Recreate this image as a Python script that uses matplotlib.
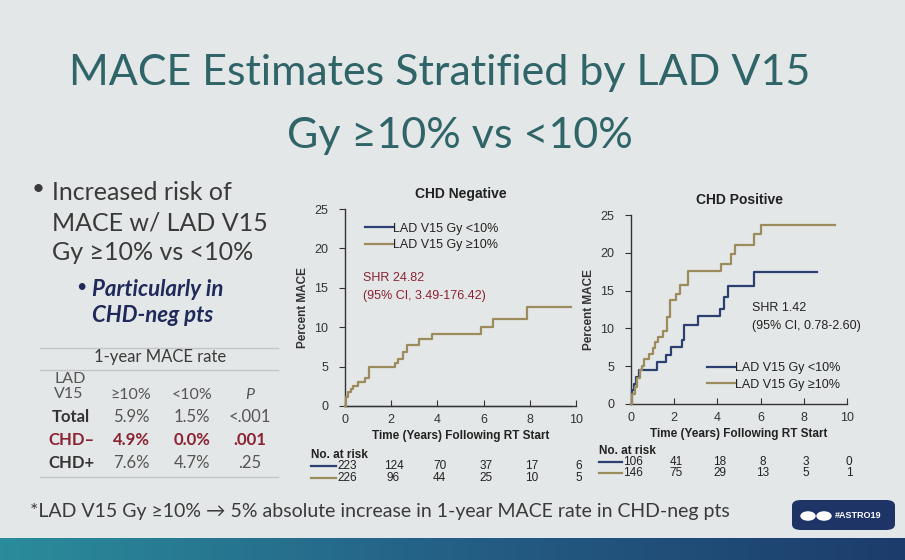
import numpy as np
import matplotlib
matplotlib.use("Agg")
import matplotlib.pyplot as plt
from matplotlib.patches import FancyBboxPatch, Circle
from matplotlib.lines import Line2D
from matplotlib.colors import LinearSegmentedColormap

# ---------------- data ----------------
neg_lo_t = [0, 9.8]
neg_lo_y = [0, 0]
neg_hi_t = [0, 0.05, 0.15, 0.26, 0.33, 0.55, 0.85, 1.05, 2.15, 2.3, 2.5, 2.7, 3.2, 3.75, 5.9, 6.4, 7.9, 9.8]
neg_hi_y = [0, 1.1, 1.8, 2.2, 2.6, 3.1, 3.5, 4.9, 5.4, 6.0, 6.8, 7.8, 8.5, 9.1, 10.0, 11.1, 12.6, 12.6]

pos_lo_t = [0, 0.05, 0.15, 0.25, 0.35, 1.2, 1.6, 1.85, 2.35, 2.45, 3.1, 4.1, 4.3, 4.5, 5.7, 8.6]
pos_lo_y = [0, 1.8, 2.7, 3.6, 4.5, 5.5, 6.5, 7.5, 8.5, 10.5, 11.6, 12.6, 14.2, 15.6, 17.4, 17.4]
pos_hi_t = [0, 0.05, 0.2, 0.3, 0.4, 0.5, 0.6, 0.85, 1.0, 1.1, 1.25, 1.5, 1.65, 1.8, 2.1, 2.25, 2.65, 4.15, 4.65, 4.8, 5.68, 6.0, 9.45]
pos_hi_y = [0, 1.3, 2.2, 3.5, 4.5, 5.0, 6.0, 6.6, 7.4, 8.2, 8.9, 9.6, 11.5, 13.7, 14.5, 15.8, 17.6, 18.5, 19.8, 21.0, 22.5, 23.7, 23.7]

risk_times = [0, 2, 4, 6, 8, 10]
neg_risk_lo = [223, 124, 70, 37, 17, 6]
neg_risk_hi = [226, 96, 44, 25, 10, 5]
pos_risk_lo = [106, 41, 18, 8, 3, 0]
pos_risk_hi = [146, 75, 29, 13, 5, 1]

series_labels = ["LAD V15 Gy <10%", "LAD V15 Gy \u226510%"]
table_cols = ["\u226510%", "<10%", "P"]
table_rows = ["Total", "CHD\u2013", "CHD+"]
table_vals = [["5.9%", "1.5%", "<.001"], ["4.9%", "0.0%", ".001"], ["7.6%", "4.7%", ".25"]]

# ---------------- style ----------------
W, H = 905, 560
BG = "#e4e7e7"
BLUE = "#2b3f72"
TAN = "#9c8b5c"
TEAL = "#2f6468"
RED = "#8a2232"
TXT = "#3a3a3a"
SANS = ["Liberation Sans", "DejaVu Sans"]
SLIDE = ["Lato", "DejaVu Sans"]

fig = plt.figure(figsize=(W / 100, H / 100), dpi=100)
fig.patch.set_facecolor(BG)


def fx(px):
    return px / W


def fy(py):
    return 1 - py / H


# bottom bar gradient
bar = fig.add_axes([0, 0, 1, fy(538)])
grad = np.linspace(0, 1, 256).reshape(1, -1)
cm = LinearSegmentedColormap.from_list("b", ["#2a8c9a", "#245f86", "#1c3c6c"])
bar.imshow(grad, aspect="auto", cmap=cm, extent=[0, 1, 0, 1])
bar.axis("off")

# title
fig.text(fx(440), fy(73), "MACE Estimates Stratified by LAD V15", ha="center", va="center",
         fontsize=31, color=TEAL, family=SLIDE)
fig.text(fx(460), fy(136), "Gy \u226510% vs <10%", ha="center", va="center",
         fontsize=31, color=TEAL, family=SLIDE)

# bullets
for i, line in enumerate(["Increased risk of", "MACE w/ LAD V15", "Gy \u226510% vs <10%"]):
    fig.text(fx(52), fy(193 + 30 * i), line, ha="left", va="center", fontsize=18,
             color=TXT, family=SLIDE)
fig.text(fx(32), fy(189), "\u2022", ha="left", va="center", fontsize=16, color=TXT, family=SLIDE)
fig.text(fx(76), fy(287), "\u2022", ha="left", va="center", fontsize=13, color="#1f2a5a", family=SLIDE)
for i, line in enumerate(["Particularly in", "CHD-neg pts"]):
    fig.text(fx(92), fy(289 + 27 * i), line, ha="left", va="center", fontsize=16,
             color="#1f2a5a", family=SLIDE, fontweight="bold", style="italic")

# table
for yy in (348, 370, 477):
    fig.add_artist(Line2D([fx(40), fx(278)], [fy(yy), fy(yy)], color="#c4c6c6", lw=1.0))
fig.text(fx(160), fy(357), "1-year MACE rate", ha="center", va="center", fontsize=12,
         color=TXT, family=SLIDE)
fig.text(fx(54), fy(379), "LAD", ha="left", va="center", fontsize=11.5, color="#555555", family=SLIDE)
fig.text(fx(54), fy(394), "V15", ha="left", va="center", fontsize=11.5, color="#555555", family=SLIDE)
col_x = [131, 192, 250]
for cx, c in zip(col_x, table_cols):
    fig.text(fx(cx), fy(395), c, ha="center", va="center", fontsize=11.5, color="#555555",
             family=SLIDE, style="italic" if c == "P" else "normal")
row_y = [417, 440, 463]
row_x = [52, 48, 48]
for ry, rxp, rname, vals in zip(row_y, row_x, table_rows, table_vals):
    red = rname.startswith("CHD\u2013")
    fig.text(fx(rxp), fy(ry), rname, ha="left", va="center", fontsize=12,
             color=RED if red else "#333333", family=SLIDE, fontweight="bold")
    for cx, v in zip(col_x, vals):
        fig.text(fx(cx), fy(ry), v, ha="center", va="center", fontsize=12,
                 color=RED if red else "#555555", family=SLIDE,
                 fontweight="bold" if red else "normal")

# footnote
fig.text(fx(30), fy(512), "*LAD V15 Gy \u226510% \u2192 5% absolute increase in 1-year MACE rate in CHD-neg pts",
         ha="left", va="center", fontsize=14, color=TXT, family=SLIDE)

# logo box
logo = FancyBboxPatch((fx(792), fy(530)), fx(103), fy(500) - fy(530),
                      boxstyle="round,pad=0,rounding_size=0.01", transform=fig.transFigure,
                      facecolor="#1e3466", edgecolor="none")
fig.add_artist(logo)
for cxp in (808, 824):
    fig.add_artist(Circle((fx(cxp), fy(516)), 0.0085, transform=fig.transFigure,
                          facecolor="white", edgecolor="none"))
fig.text(fx(835), fy(516), "#ASTRO19", ha="left", va="center", fontsize=6.5, color="white",
         family=SANS, fontweight="bold")


def km_axes(rect, title, t_lo, y_lo, t_hi, y_hi, risk_lo, risk_hi, shr, shr_xy, leg_anchor,
            shr_color, lo_z, lo_lw):
    ax = fig.add_axes(rect)
    ax.set_facecolor("none")
    ax.step(t_lo, y_lo, where="post", color=BLUE, lw=lo_lw, clip_on=False, zorder=lo_z)
    ax.step(t_hi, y_hi, where="post", color=TAN, lw=1.6, clip_on=False, zorder=3)
    ax.set_xlim(0, 10)
    ax.set_ylim(0, 25)
    ax.set_xticks([0, 2, 4, 6, 8, 10])
    ax.set_yticks([0, 5, 10, 15, 20, 25])
    for s in ("top", "right"):
        ax.spines[s].set_visible(False)
    for s in ("left", "bottom"):
        ax.spines[s].set_color("#333333")
        ax.spines[s].set_linewidth(1.0)
        ax.spines[s].set_zorder(2.5)
    ax.tick_params(axis="y", direction="out", length=4, labelsize=9, colors="#333333", pad=8)
    ax.tick_params(axis="x", direction="in", length=4, labelsize=9, colors="#333333", pad=6)
    for lab in ax.get_xticklabels() + ax.get_yticklabels():
        lab.set_family(SANS)
    ax.set_title(title, fontsize=10, fontweight="bold", family=SANS, color="#222222", pad=8)
    ax.set_ylabel("Percent MACE", fontsize=8.5, fontweight="bold", family=SANS, color="#333333",
                  labelpad=4)
    ax.set_xlabel("Time (Years) Following RT Start", fontsize=8.5, fontweight="bold",
                  family=SANS, color="#222222", labelpad=3)
    handles = [Line2D([], [], color=BLUE, lw=1.6), Line2D([], [], color=TAN, lw=1.6)]
    leg = ax.legend(handles, series_labels, loc="upper left", bbox_to_anchor=leg_anchor,
                    frameon=False, handlelength=2.2, handletextpad=0.0, borderaxespad=0.0,
                    labelspacing=0.35, prop={"family": SANS, "size": 9})
    for txt in leg.get_texts():
        txt.set_color("#222222")
    ax.text(shr_xy[0], shr_xy[1], shr, transform=ax.transAxes, ha="left", va="top",
            fontsize=9, family=SANS, color=shr_color, linespacing=1.7)
    # number at risk
    tr = ax.get_xaxis_transform()
    ax.text(-0.147, -0.25, "No. at risk", transform=ax.transAxes, ha="left", va="center",
            fontsize=8.5, fontweight="bold", family=SANS, color="#222222")
    for row, (vals, col) in enumerate(((risk_lo, BLUE), (risk_hi, TAN))):
        yy = -0.305 - 0.062 * row
        ax.add_line(Line2D([-0.147, -0.04], [yy, yy], transform=ax.transAxes, color=col, lw=1.6,
                           clip_on=False))
        for tt, v in zip(risk_times, vals):
            ax.text(tt + 0.1, yy, str(v), transform=tr, ha="center", va="center", fontsize=8.5,
                    family=SANS, color="#222222")
    return ax


km_axes([fx(345), fy(406), fx(576) - fx(345), fy(209) - fy(406)], "CHD Negative",
        neg_lo_t, neg_lo_y, neg_hi_t, neg_hi_y, neg_risk_lo, neg_risk_hi,
        "SHR 24.82\n(95% CI, 3.49-176.42)", (0.08, 0.68), (0.065, 0.955), RED, 2, 0.9)
km_axes([fx(631), fy(404), fx(847) - fx(631), fy(215) - fy(404)], "CHD Positive",
        pos_lo_t, pos_lo_y, pos_hi_t, pos_hi_y, pos_risk_lo, pos_risk_hi,
        "SHR 1.42\n(95% CI, 0.78-2.60)", (0.56, 0.54), (0.33, 0.248), "#222222", 3, 1.6)

fig.savefig("out.png", dpi=100, facecolor=BG)
